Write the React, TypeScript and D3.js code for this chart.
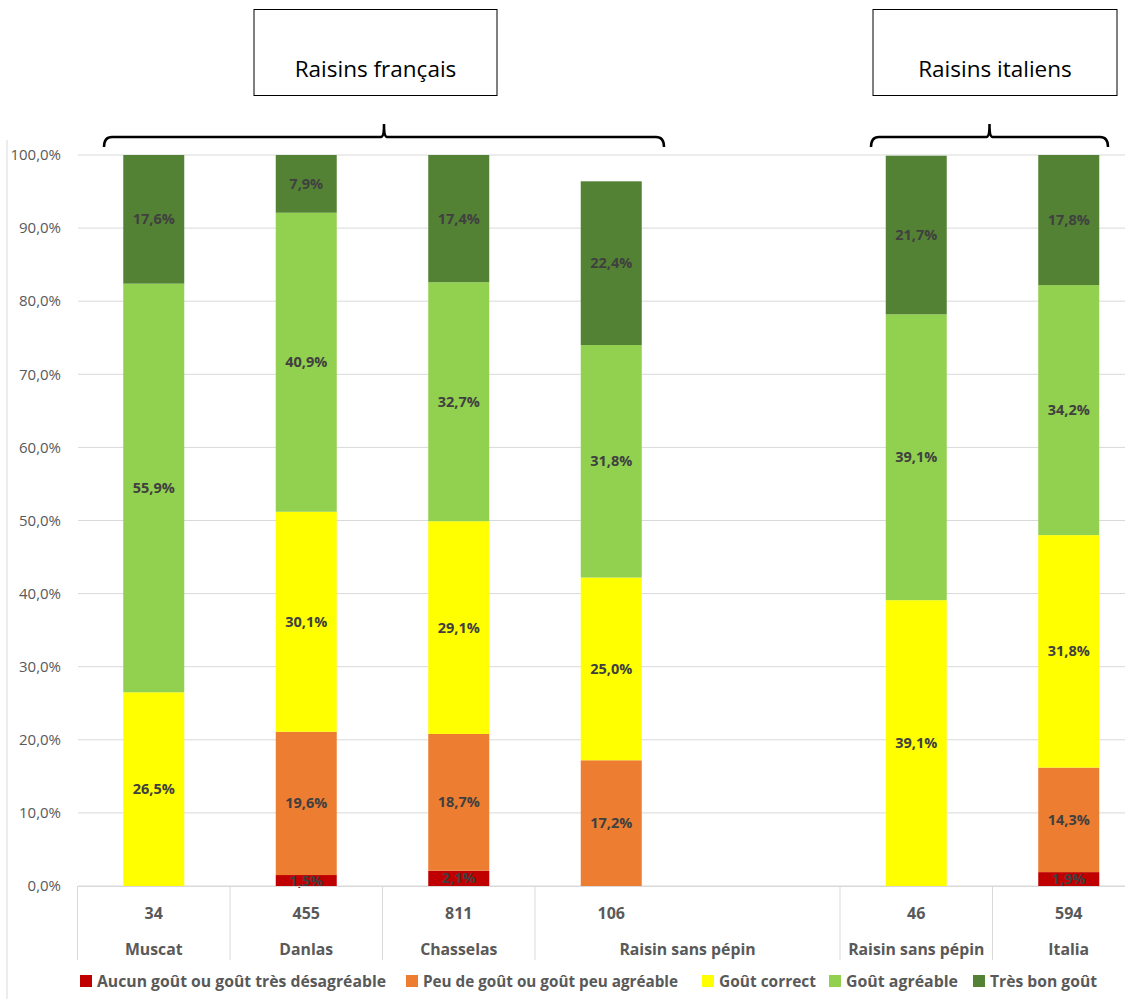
import React from "react";
import * as d3 from "d3";

const slots = ["Muscat", "Danlas", "Chasselas", "RSPfr", "gap", "RSPit", "Italia"];
const counts = ["34", "455", "811", "106", "", "46", "594"];
const groupLabels = [
  { label: "Muscat", from: 0, to: 0 },
  { label: "Danlas", from: 1, to: 1 },
  { label: "Chasselas", from: 2, to: 2 },
  { label: "Raisin sans pépin", from: 3, to: 4 },
  { label: "Raisin sans pépin", from: 5, to: 5 },
  { label: "Italia", from: 6, to: 6 },
];
const seriesNames = [
  "Aucun goût ou goût très désagréable",
  "Peu de goût ou goût peu agréable",
  "Goût correct",
  "Goût agréable",
  "Très bon goût",
];
const seriesColors = ["#C00000", "#ED7D31", "#FFFF00", "#92D050", "#548235"];
// values per slot, per series (percent)
const aucun = [0, 1.5, 2.1, 0, 0, 0, 1.9];
const peu = [0, 19.6, 18.7, 17.2, 0, 0, 14.3];
const correct = [26.5, 30.1, 29.1, 25.0, 0, 39.1, 31.8];
const agreable = [55.9, 40.9, 32.7, 31.8, 0, 39.1, 34.2];
const tresBon = [17.6, 7.9, 17.4, 22.4, 0, 21.7, 17.8];
const yTicks = [0, 10, 20, 30, 40, 50, 60, 70, 80, 90, 100];
const brackets = [
  { label: "Raisins français", x0: 104, x1: 664, box: [254, 497] },
  { label: "Raisins italiens", x0: 871, x1: 1108, box: [873, 1117] },
];

const FONT = "'Open Sans', sans-serif";

export default function App() {
  const W = 1125, H = 999;
  const x = d3.scaleBand<string>().domain(slots).range([77.5, 1145]).paddingInner(0.6).paddingOuter(0.3);
  const step = x.step();
  const slotStart = (i: number) => 77.5 + i * step;
  const y = d3.scaleLinear().domain([0, 100]).range([886, 155]);

  const table = slots.map((s, i) => ({
    slot: s, a: aucun[i], p: peu[i], c: correct[i], g: agreable[i], t: tresBon[i],
  }));
  const keys = ["a", "p", "c", "g", "t"];
  const stacked = d3.stack<any>().keys(keys)(table);
  const fmt = (v: number) => v.toFixed(1).replace(".", ",") + "%";

  const bracketPath = (x0: number, x1: number) => {
    const yl = 137, ye = 147, yt = 124, mid = (x0 + x1) / 2;
    return `M${x0},${ye} Q${x0},${yl} ${x0 + 8},${yl} L${mid - 3},${yl} Q${mid},${yl} ${mid},${yt} Q${mid},${yl} ${mid + 3},${yl} L${x1 - 8},${yl} Q${x1},${yl} ${x1},${ye}`;
  };

  const legendX = [80, 406, 702, 829, 973];
  const legendW = [289, 255, 97, 112, 107];

  return (
    <svg width={W} height={H} style={{ position: "absolute", left: 0, top: 0, background: "#fff" }} fontFamily={FONT}>
      <rect x={0} y={0} width={W} height={H} fill="#fff" />
      <line x1={7} x2={7} y1={140} y2={H} stroke="#d9d9d9" strokeWidth={1} />
      {/* gridlines */}
      {yTicks.map((t) => (
        <g key={t}>
          <line x1={78} x2={W} y1={y(t)} y2={y(t)} stroke="#d9d9d9" strokeWidth={1} />
          <text x={61} y={y(t)} dy="0.35em" textAnchor="end" fontSize={15} fill="#595959">
            {fmt(t)}
          </text>
        </g>
      ))}
      {/* bars */}
      {stacked.map((layer, si) => (
        <g key={si}>
          {layer.map((d, i) => {
            const v = d[1] - d[0];
            if (v <= 0) return null;
            const bx = x(slots[i])!;
            return (
              <rect key={i} x={bx} y={y(d[1])} width={x.bandwidth()} height={y(d[0]) - y(d[1])} fill={seriesColors[si]} />
            );
          })}
        </g>
      ))}
      {stacked.map((layer, si) => (
        <g key={"l" + si}>
          {layer.map((d, i) => {
            const v = d[1] - d[0];
            if (v <= 0) return null;
            const bx = x(slots[i])! + x.bandwidth() / 2;
            return (
              <text key={i} x={bx} y={y((d[0] + d[1]) / 2)} dy="0.35em" textAnchor="middle" fontSize={14.5} fontWeight="bold" fill="#404040">
                {fmt(v)}
              </text>
            );
          })}
        </g>
      ))}
      {/* category axis */}
      <line x1={78} x2={W} y1={886.5} y2={886.5} stroke="#d9d9d9" strokeWidth={1} />
      {[0, 1, 2, 3, 5, 6, 7].map((i) => (
        <line key={i} x1={slotStart(i)} x2={slotStart(i)} y1={886} y2={960} stroke="#d9d9d9" strokeWidth={1} />
      ))}
      {counts.map((c, i) => (
        <text key={i} x={x(slots[i])! + x.bandwidth() / 2} y={913} dy="0.35em" textAnchor="middle" fontSize={16} fontWeight="bold" fill="#595959">
          {c}
        </text>
      ))}
      {groupLabels.map((g, i) => (
        <text key={i} x={(slotStart(g.from) + slotStart(g.to + 1)) / 2} y={949} dy="0.35em" textAnchor="middle" fontSize={15.8} fontWeight="bold" fill="#595959">
          {g.label}
        </text>
      ))}
      {/* legend */}
      {seriesNames.map((n, i) => (
        <g key={n}>
          <rect x={legendX[i]} y={975} width={12} height={12} fill={seriesColors[i]} />
          <text x={legendX[i] + 17} y={981} dy="0.35em" fontSize={16} fontWeight="bold" fill="#595959" textLength={legendW[i]} lengthAdjust="spacingAndGlyphs">
            {n}
          </text>
        </g>
      ))}
      {/* brackets and boxes */}
      {brackets.map((b) => (
        <g key={b.label}>
          <path d={bracketPath(b.x0, b.x1)} fill="none" stroke="#000" strokeWidth={2.5} />
          <rect x={b.box[0]} y={9.5} width={b.box[1] - b.box[0]} height={86} fill="#fff" stroke="#000" strokeWidth={1} />
          <text x={(b.box[0] + b.box[1]) / 2} y={77} textAnchor="middle" fontSize={22.5} fill="#000">
            {b.label}
          </text>
        </g>
      ))}
    </svg>
  );
}
